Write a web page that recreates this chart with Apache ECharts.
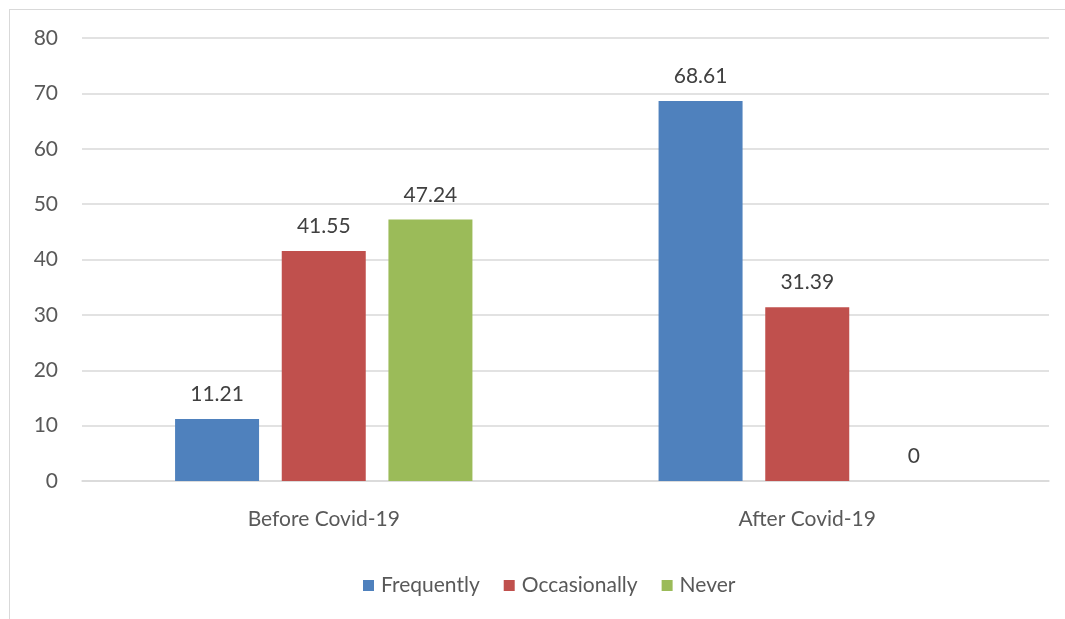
<!DOCTYPE html>
<html>
<head>
<meta charset="utf-8">
<script src="https://cdn.jsdelivr.net/npm/echarts@6/dist/echarts.min.js"></script>
<style>
  html, body { margin: 0; padding: 0; background: #fff; }
  #frame { position: absolute; left: 9px; top: 9px; width: 1070px; height: 620px; border: 1px solid #d9d9d9; box-sizing: border-box; }
  #chart { position: absolute; left: 0; top: 0; width: 1065px; height: 619px; }
</style>
</head>
<body>
<div id="frame"></div>
<div id="chart"></div>
<script>
// Survey periods and the share of responses per frequency group
const categories = ['Before Covid-19', 'After Covid-19'];
const frequently = [11.21, 68.61];
const occasionally = [41.55, 31.39];
const never = [47.24, 0];
const yTicks = [0, 10, 20, 30, 40, 50, 60, 70, 80];

const FONT = 'Lato, "Open Sans", sans-serif';
const SIZE = 21;
const label = {
  show: true, position: 'top', distance: 14,
  color: '#404040', fontSize: SIZE, fontFamily: FONT
};

function bar(name, data, color) {
  return {
    name, type: 'bar', data, barWidth: 84, barGap: '27%',
    itemStyle: { color }, label
  };
}

const chart = echarts.init(document.getElementById('chart'), null, { renderer: 'canvas' });
chart.setOption({
  animation: false,
  textStyle: { fontFamily: FONT },
  grid: { left: 82, right: 16, top: 38, bottom: 138, containLabel: false },
  xAxis: {
    type: 'category', data: categories,
    axisLine: { lineStyle: { color: '#d9d9d9', width: 1.5 } },
    axisTick: { show: false },
    axisLabel: { color: '#595959', fontSize: SIZE, fontFamily: FONT, margin: 28 }
  },
  yAxis: {
    type: 'value', min: yTicks[0], max: yTicks[yTicks.length - 1], interval: 10,
    axisLine: { show: false }, axisTick: { show: false },
    splitLine: { lineStyle: { color: '#d9d9d9', width: 1.5 } },
    axisLabel: { color: '#595959', fontSize: SIZE, fontFamily: FONT, margin: 24 }
  },
  legend: {
    bottom: 18, left: 358, itemWidth: 11, itemHeight: 11, itemGap: 24,
    icon: 'rect',
    textStyle: { color: '#595959', fontSize: SIZE, fontFamily: FONT, padding: [0, 0, 0, 2] }
  },
  series: [
    bar('Frequently', frequently, '#4f81bd'),
    bar('Occasionally', occasionally, '#c0504d'),
    bar('Never', never, '#9bbb59')
  ]
});
</script>
</body>
</html>
